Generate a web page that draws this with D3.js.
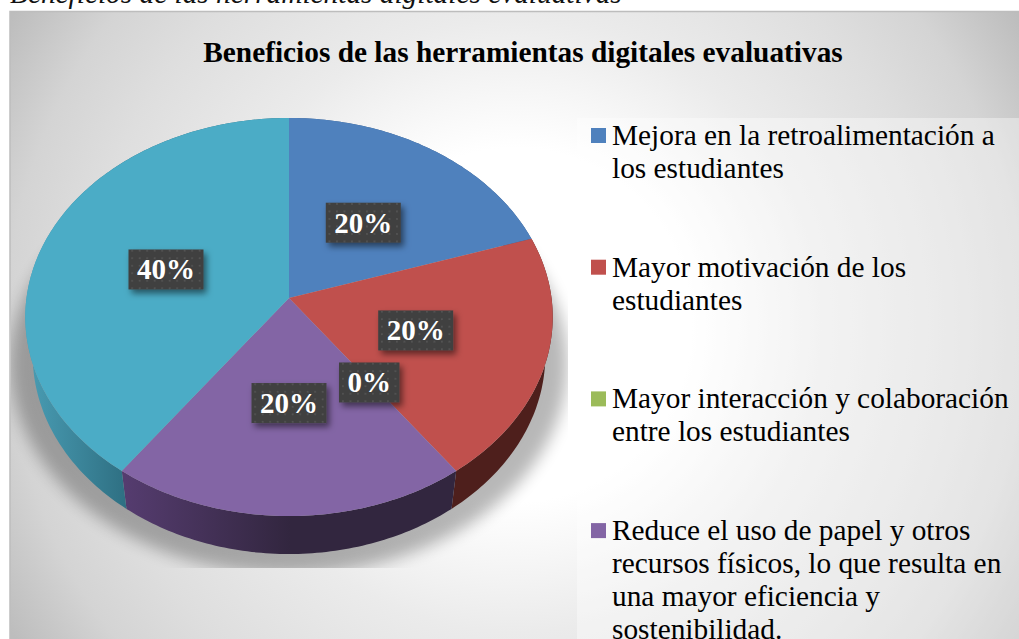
<!DOCTYPE html>
<html lang="es">
<head>
<meta charset="utf-8">
<style>html,body{margin:0;padding:0;background:#fff;overflow:hidden}svg{display:block}</style>
<script src="https://cdn.jsdelivr.net/npm/d3@7/dist/d3.min.js"></script>
</head>
<body>
<script>
const caption = "Beneficios de las herramientas digitales evaluativas";
const chartTitle = "Beneficios de las herramientas digitales evaluativas";
const categories = ["Mejora","Motivacion","Interaccion","Reduce","Otros"];
const legendLines = [
  ["Mejora en la retroalimentación a","los estudiantes"],
  ["Mayor motivación de los","estudiantes"],
  ["Mayor interacción y colaboración","entre los estudiantes"],
  ["Reduce el uso de papel y otros","recursos físicos, lo que resulta en","una mayor eficiencia y","sostenibilidad."]
];
const values = [20,20,0,20,40];
const topColors = ["#4f81bd","#c0504d","#9bbb59","#8365a5","#4bacc6"];

const W=1019,H=639;
const svg=d3.select("body").append("svg").attr("width",W).attr("height",H);
const defs=svg.append("defs");

// background gradient
const bg=defs.append("radialGradient").attr("id","bg").attr("gradientUnits","userSpaceOnUse")
  .attr("cx",515).attr("cy",325).attr("r",590);
[[0,"#fff"],[.3,"#fff"],[.52,"#ebebeb"],[.73,"#dedede"],[.86,"#d4d4d4"],[1,"#bdbdbd"]]
  .forEach(s=>bg.append("stop").attr("offset",s[0]).attr("stop-color",s[1]));

// side gradients
function hgrad(id,x1,x2,c1,c2){const g=defs.append("linearGradient").attr("id",id)
  .attr("gradientUnits","userSpaceOnUse").attr("x1",x1).attr("x2",x2).attr("y1",0).attr("y2",0);
  g.append("stop").attr("offset",0).attr("stop-color",c1);
  g.append("stop").attr("offset",1).attr("stop-color",c2);}
hgrad("sideCyan",26,127,"#4a9db4","#2e6f82");
hgrad("sidePurple",125,290,"#553c6f","#32263f");
const sideFills=["#3c5f8c","#4e1f1c","#6f8740","url(#sidePurple)","url(#sideCyan)"];

// filters
const bl=defs.append("filter").attr("id","blur").attr("x","-20%").attr("y","-20%").attr("width","140%").attr("height","140%");
bl.append("feGaussianBlur").attr("stdDeviation",8);
const ds=defs.append("filter").attr("id","lab").attr("x","-30%").attr("y","-30%").attr("width","170%").attr("height","170%");
ds.append("feDropShadow").attr("dx",3).attr("dy",4).attr("stdDeviation",3).attr("flood-color","#000").attr("flood-opacity",.5);
const pat=defs.append("pattern").attr("id","dots").attr("patternUnits","userSpaceOnUse").attr("width",7.5).attr("height",7.5);
pat.append("rect").attr("width",7.5).attr("height",7.5).attr("fill","#404040");
pat.append("circle").attr("cx",3.7).attr("cy",3.7).attr("r",1).attr("fill","#555");
defs.append("clipPath").attr("id","plotClip").append("rect").attr("x",11).attr("y",13).attr("width",557).attr("height",555);

// frame
svg.append("rect").attr("x",10).attr("y",11.5).attr("width",W).attr("height",H).attr("fill","url(#bg)")
  .attr("stroke","#bdbdbd").attr("stroke-width",1.5);

// caption (clipped by the top of the page)
svg.append("text").attr("x",10).attr("y",3).attr("font-family","Liberation Serif").attr("font-style","italic")
  .attr("font-size",29.33).attr("fill","#111").text(caption);
// title
svg.append("text").attr("x",523).attr("y",62).attr("text-anchor","middle").attr("font-family","Liberation Serif")
  .attr("font-weight","bold").attr("font-size",29.33).attr("fill","#000").text(chartTitle);

// legend panel
svg.append("rect").attr("x",577).attr("y",118).attr("width",W-577).attr("height",H-118).attr("fill","#fff").attr("opacity",.38);

// pie projection: a flat disc seen in perspective
const cx=289,cy=298,rx=262.5,ryK=197.2,persp=-0.0955,depth=38,rimShrink=.972;
function project(angle,r){
  const u=Math.sin(angle)*r,v=-Math.cos(angle)*r,w=1+persp*v;
  return [cx+rx*u/w,cy+ryK*v/w];
}
const lower=p=>[cx+(p[0]-cx)*rimShrink,p[1]+depth];
const line=d3.line();
const pie=d3.pie().sort(null).value(d=>d)(values);
const arcPts=(a0,a1,r=1)=>{const n=Math.max(2,Math.ceil((a1-a0)*60));
  return d3.range(n+1).map(i=>project(a0+(a1-a0)*i/n,r));};

// shadow
svg.append("g").attr("clip-path","url(#plotClip)").append("ellipse")
  .attr("cx",cx).attr("cy",364).attr("rx",rx+16).attr("ry",210)
  .attr("fill","#000").attr("opacity",.28).attr("filter","url(#blur)");

const slices=pie.map((d,i)=>({...d,i})).filter(d=>d.value>0);
// sides
svg.append("g").selectAll("path").data(slices).join("path")
  .attr("d",d=>{const p=arcPts(d.startAngle,d.endAngle);return line(p.concat(p.map(lower).reverse()))+"Z";})
  .attr("fill",d=>sideFills[d.i]);
// top faces
svg.append("g").selectAll("path").data(slices).join("path")
  .attr("d",d=>line([[cx,cy]].concat(arcPts(d.startAngle,d.endAngle)))+"Z")
  .attr("fill",d=>topColors[d.i]);

// data labels
const labG=svg.append("g");
pie.forEach((d,i)=>{
  const mid=(d.startAngle+d.endAngle)/2,[x,y]=project(mid,.5);
  const g=labG.append("g").attr("transform",`translate(${x},${y+1.5})`);
  const t=g.append("text").attr("text-anchor","middle").attr("y",10).attr("font-family","Liberation Serif")
    .attr("font-weight","bold").attr("font-size",29).attr("fill","#fff").text(d3.format(".0%")(d.value/100));
  const w=t.node().getComputedTextLength()+17;
  g.insert("rect","text").attr("x",-w/2).attr("y",-20).attr("width",w).attr("height",40)
    .attr("fill","url(#dots)").attr("filter","url(#lab)");
});

// legend
const ly=d3.scaleLinear().domain([0,1]).range([145,276.7]);
const leg=svg.append("g").selectAll("g").data(legendLines).join("g");
leg.append("rect").attr("x",591).attr("y",(d,i)=>ly(i)-17).attr("width",15).attr("height",15).attr("fill",(d,i)=>topColors[i]);
leg.each(function(lines,i){
  d3.select(this).selectAll("text").data(lines).join("text")
    .attr("x",612).attr("y",(l,j)=>ly(i)+j*33)
    .attr("font-family","Liberation Serif").attr("font-size",29.33).attr("fill","#000").text(l=>l);
});
</script>
</body>
</html>
